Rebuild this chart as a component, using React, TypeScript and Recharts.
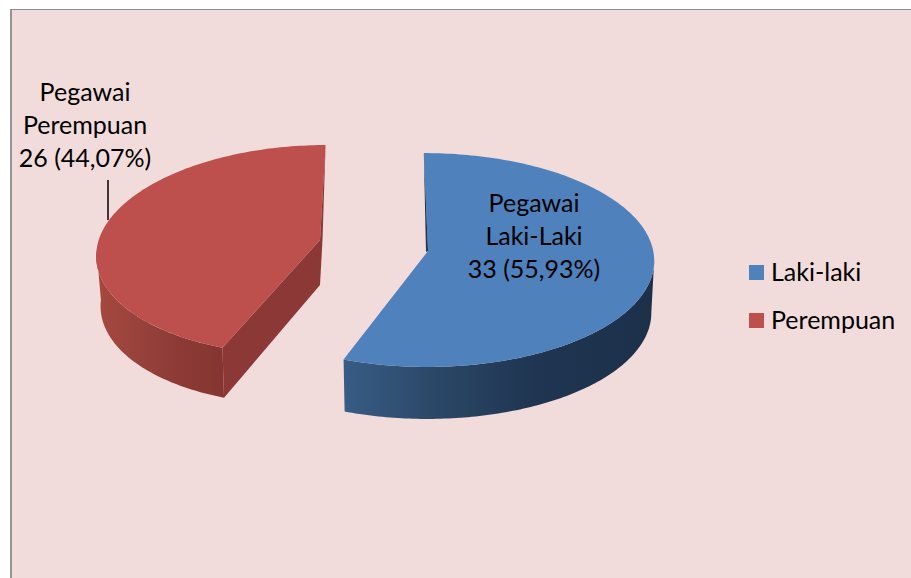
import { Legend, Pie, PieChart } from "recharts";

const categories = ["Laki-laki", "Perempuan"];
const employeeCounts = [33, 26];
const calloutLines = [
  ["Pegawai", "Laki-Laki"],
  ["Pegawai", "Perempuan"],
];
const sliceColors = ["#4F81BD", "#BD4F4C"];

const tableData = categories.map((name, i) => ({
  name,
  value: employeeCounts[i],
  fill: sliceColors[i],
  lines: calloutLines[i],
}));

const FONT = "Lato, 'Open Sans', sans-serif";
const PIE_CX = 372;
const PIE_CY = 250;

// fake 3D: every slice is a squashed ellipse, moved away from the pie centre
const SLICE_LOOK: Record<string, any> = {
  "Laki-laki": {
    ex: 53.4, ey: 10, ax: 1.04, ay: 0.486, bottomAx: 1.027, depth: 52, skew: -0.015,
    apexX: 56, apexY: 1,
    sliverDx: -2, sliverDy: 1, sliverBottom: 0,
    cutWall: false,
    wallStops: ["#385C85", "#2B4767", "#1F3551", "#1C304A"],
    wallFrom: 344, wallTo: 654,
    cutFill: "#1E3450",
    label: { x: 162, y: -38 },
  },
  Perempuan: {
    ex: -59, ey: 0, ax: 0.984, ay: 0.477, bottomAx: 0.964, depth: 50, skew: 0.12,
    apexX: -52, apexY: -10,
    sliverDx: 2.5, sliverDy: 0, sliverBottom: 45,
    cutWall: true,
    wallStops: ["#A5483F", "#98423C", "#8D3A36", "#853531"],
    wallFrom: 100, wallTo: 225,
    cutFill: "#8C3836",
    label: { x: -287, y: -149 },
    leader: { x: -264, y1: -70, y2: -30 },
  },
};

function ellipsePoint(p: any, look: any, angle: number, bottom = false) {
  const rad = (angle * Math.PI) / 180;
  const r = p.outerRadius;
  const dy = -r * look.ay * Math.sin(rad);
  const a = r * (bottom ? look.bottomAx : look.ax);
  return {
    x: p.cx + look.ex + a * Math.cos(rad) - look.skew * dy,
    y: p.cy + look.ey + dy + (bottom ? look.depth : 0),
  };
}

function sampleArc(p: any, look: any, from: number, to: number, bottom = false) {
  const steps = Math.max(2, Math.ceil(Math.abs(from - to)));
  const pts = [];
  for (let i = 0; i <= steps; i++) {
    pts.push(ellipsePoint(p, look, from + ((to - from) * i) / steps, bottom));
  }
  return pts;
}

const toPath = (pts: { x: number; y: number }[]) =>
  pts.map((q, i) => `${i ? "L" : "M"}${q.x.toFixed(2)},${q.y.toFixed(2)}`).join(" ") + " Z";

function Slice3D(props: any) {
  const look = SLICE_LOOK[props.name ?? props.payload?.name];
  const { startAngle, endAngle, cx, cy, fill } = props;
  const apex = { x: cx + look.apexX, y: cy + look.apexY };
  const apexLow = { x: apex.x, y: apex.y + look.depth - 5 };
  const arc = sampleArc(props, look, startAngle, endAngle);
  const startPt = arc[0];
  const endPt = arc[arc.length - 1];

  // outer wall only where the rim faces the viewer
  const wallFrom = Math.min(startAngle, 0);
  const wallTo = Math.max(endAngle, -180);
  const wall = [
    ...sampleArc(props, look, wallFrom, wallTo),
    ...sampleArc(props, look, wallTo, wallFrom, true),
  ];
  const gradId = `wall-${props.index ?? look.wallFrom}`;

  // for the second slice the visible thin face sits at its end angle
  const sliverTop = look.cutWall ? endPt : startPt;
  const sliver = [
    sliverTop,
    { x: apex.x + look.sliverDx, y: apex.y + look.sliverDy },
    { x: apex.x, y: apex.y + look.sliverBottom },
    apex,
  ];

  return (
    <g>
      <defs>
        <linearGradient id={gradId} gradientUnits="userSpaceOnUse" x1={look.wallFrom} x2={look.wallTo} y1={0} y2={0}>
          <stop offset="0" stopColor={look.wallStops[0]} />
          <stop offset="0.3" stopColor={look.wallStops[1]} />
          <stop offset="0.62" stopColor={look.wallStops[2]} />
          <stop offset="1" stopColor={look.wallStops[3]} />
        </linearGradient>
      </defs>
      <path d={toPath(wall)} fill={`url(#${gradId})`} />
      {look.cutWall && (
        <path
          d={toPath([apex, startPt, ellipsePoint(props, look, startAngle, true), apexLow])}
          fill={look.cutFill}
        />
      )}
      <path d={toPath([apex, ...arc])} fill={fill} />
      <path d={toPath(sliver)} fill={look.cutFill} />
    </g>
  );
}

function SliceCallout(props: any) {
  const { cx, cy, name, value, percent, payload } = props;
  const look = SLICE_LOOK[name ?? payload?.name];
  const share = (percent * 100).toFixed(2).replace(".", ",");
  const rows = [...payload.lines, `${value} (${share}%)`];
  return (
    <g>
      <text
        x={cx + look.label.x}
        y={cy + look.label.y}
        textAnchor="middle"
        fontFamily={FONT}
        fontSize={25}
        fill="#000"
      >
        {rows.map((row: string, i: number) => (
          <tspan key={row} x={cx + look.label.x} dy={i === 0 ? 0 : 33}>
            {row}
          </tspan>
        ))}
      </text>
      {look.leader && (
        <line
          x1={cx + look.leader.x}
          x2={cx + look.leader.x}
          y1={cy + look.leader.y1}
          y2={cy + look.leader.y2}
          stroke="#000"
          strokeWidth={1.5}
        />
      )}
    </g>
  );
}

function SideLegend({ payload }: any) {
  return (
    <div style={{ fontFamily: FONT, fontSize: 25, color: "#000" }}>
      {(payload ?? []).map((entry: any) => (
        <div key={entry.value} style={{ display: "flex", alignItems: "center", height: 48 }}>
          <span style={{ width: 15, height: 15, background: entry.color, marginRight: 7 }} />
          <span style={{ position: "relative", top: -1 }}>{entry.value}</span>
        </div>
      ))}
    </div>
  );
}

export default function App() {
  return (
    <div
      style={{
        position: "absolute",
        left: 0,
        top: 0,
        width: 911,
        height: 578,
        overflow: "hidden",
        background: "#fff",
      }}
    >
      <div
        style={{
          position: "absolute",
          left: 10,
          top: 9,
          right: 0,
          bottom: 0,
          background: "#F2DCDB",
          borderLeft: "2px solid #969696",
          borderTop: "1px solid #8c8c8c",
        }}
      />
      <PieChart width={911} height={578} margin={{ top: 0, right: 0, bottom: 0, left: 0 }}>
        <Pie
          data={tableData}
          dataKey="value"
          nameKey="name"
          cx={PIE_CX}
          cy={PIE_CY}
          outerRadius={220}
          startAngle={90}
          endAngle={-270}
          stroke="none"
          shape={Slice3D}
          label={SliceCallout}
          labelLine={false}
          isAnimationActive={false}
        />
        <Legend
          layout="vertical"
          content={SideLegend}
          wrapperStyle={{ position: "absolute", left: 749, top: 248, width: 160 }}
        />
      </PieChart>
    </div>
  );
}
